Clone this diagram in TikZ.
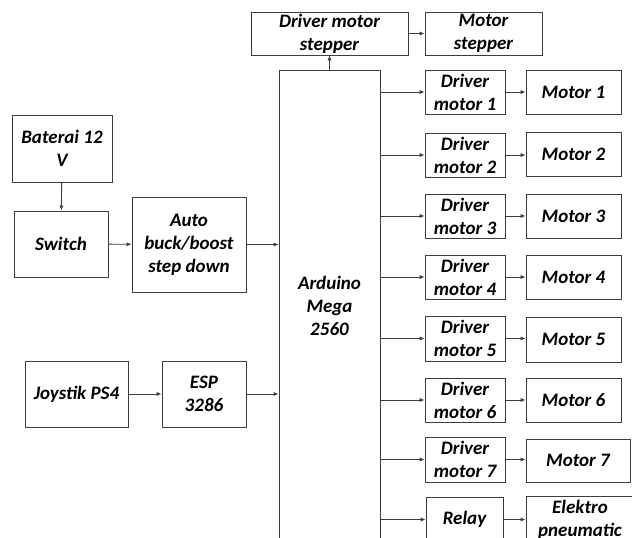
\documentclass[tikz,border=0pt]{standalone}
\usepackage{fontspec}
\setmainfont{Carlito}
\usetikzlibrary{arrows.meta}
\definecolor{ln}{RGB}{60,60,60}
\tikzset{
  box/.style={draw=ln, line width=0.9pt, inner sep=0pt, align=center,
    font=\fontsize{19}{23}\selectfont\bfseries\itshape, text=black},
  arr/.style={draw=ln, line width=0.9pt, -{Latex[length=5pt,width=4.2pt]}}
}
\begin{document}
\begin{tikzpicture}[x=1pt,y=-1pt]
\useasboundingbox (0,0) rectangle (632,538);
\clip (0,0) rectangle (632,538);
\fill[white] (0,0) rectangle (632,538);
% left side
\node[box, minimum width=100, minimum height=67] (bat) at (62,148.5) {Baterai 12\\V};
\node[box, minimum width=94, minimum height=66] (sw) at (61,244) {Switch};
\node[box, minimum width=114, minimum height=95] (auto) at (189,244.5) {Auto\\buck/boost\\step down};
\node[box, minimum width=103, minimum height=66] (joy) at (76.5,394) {Joystik PS4};
\node[box, minimum width=84, minimum height=66] (esp) at (204,394) {ESP\\3286};
% centre
\node[box, minimum width=101, minimum height=472] (ard) at (329.5,306) {Arduino\\Mega\\2560};
\node[box, minimum width=157, minimum height=43] (dms) at (329.5,33.5) {Driver motor\\stepper};
\node[box, minimum width=117, minimum height=43] (ms) at (483.5,33.5) {Motor\\stepper};
% drivers
\node[box, minimum width=80, minimum height=44] (d1) at (465,92) {Driver\\motor 1};
\node[box, minimum width=80, minimum height=44] (d2) at (465,155) {Driver\\motor 2};
\node[box, minimum width=80, minimum height=44] (d3) at (465,216) {Driver\\motor 3};
\node[box, minimum width=80, minimum height=44] (d4) at (465,277) {Driver\\motor 4};
\node[box, minimum width=80, minimum height=45] (d5) at (465,338.5) {Driver\\motor 5};
\node[box, minimum width=80, minimum height=44] (d6) at (465,400) {Driver\\motor 6};
\node[box, minimum width=80, minimum height=45] (d7) at (465,459.5) {Driver\\motor 7};
\node[box, minimum width=77, minimum height=45] (rel) at (464.5,519.5) {Relay};
% motors
\node[box, minimum width=95, minimum height=44] (m1) at (573.5,92) {Motor 1};
\node[box, minimum width=95, minimum height=44] (m2) at (573.5,154) {Motor 2};
\node[box, minimum width=95, minimum height=44] (m3) at (573.5,216) {Motor 3};
\node[box, minimum width=95, minimum height=44] (m4) at (573.5,277) {Motor 4};
\node[box, minimum width=95, minimum height=45] (m5) at (573.5,339.5) {Motor 5};
\node[box, minimum width=95, minimum height=44] (m6) at (573.5,400) {Motor 6};
\node[box, minimum width=104, minimum height=43] (m7) at (578,460.5) {Motor 7};
\node[box, minimum width=108, minimum height=48] (el) at (580,520) {Elektro\\pneumatic};
% connectors
\draw[arr] (bat) -- (sw);
\draw[arr] (sw) -- (auto);
\draw[arr] (auto.east) -- (auto.east -| ard.west);
\draw[arr] (joy) -- (esp);
\draw[arr] (esp.east) -- (esp.east -| ard.west);
\draw[arr] (ard.north) -- (dms.south);
\draw[arr] (dms) -- (ms);
\foreach \d/\m in {d1/m1,d2/m2,d3/m3,d4/m4,d5/m5,d6/m6,d7/m7,rel/el}{
  \draw[arr] (ard.east |- \d.west) -- (\d.west);
  \draw[arr] (\d.east) -- (\d.east -| \m.west);
}
\end{tikzpicture}
\end{document}
